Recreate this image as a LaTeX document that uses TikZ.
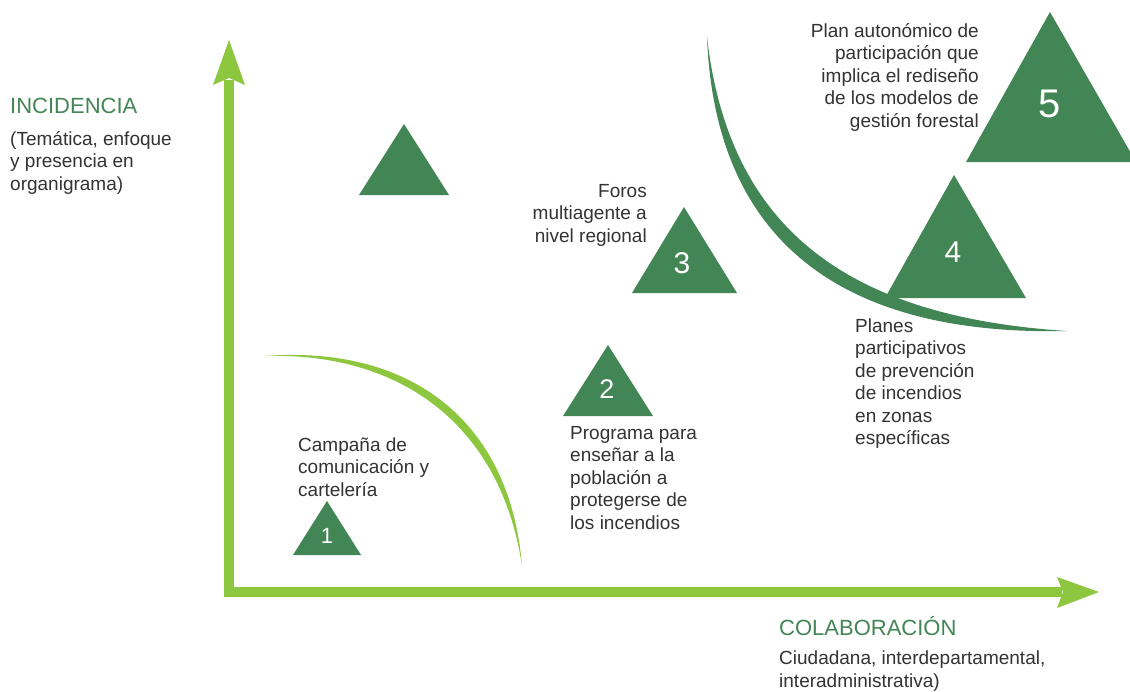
\documentclass[tikz,border=0pt]{standalone}
\usepackage{fontspec}
\setmainfont{Liberation Sans}
\definecolor{darkgreen}{RGB}{67,134,86}
\definecolor{lightgreen}{RGB}{141,198,63}
\definecolor{textgrey}{RGB}{51,51,51}
\begin{document}
\begin{tikzpicture}[x=1pt,y=-1pt,
  body/.style={font=\fontsize{19}{22.5}\selectfont, text=textgrey, inner sep=0},
  titletext/.style={font=\fontsize{22}{25}\selectfont, text=darkgreen, inner sep=0},
  num/.style={text=white, inner sep=0},
  tri/.style={fill=darkgreen, draw=none},
  axis/.style={draw=lightgreen, line width=10pt, line join=miter}]
\useasboundingbox (0,0) rectangle (1130,691);
\fill[white] (0,0) rectangle (1130,691);

% axes
\coordinate (O) at (229,592);
\coordinate (Ytip) at (229,40);
\coordinate (Xtip) at (1099,592);
\draw[axis] (229,80) -- (O) -- (1062,592);
\fill[lightgreen] (Ytip) -- (245,85) -- (229,78) -- (213,85) -- cycle;
\fill[lightgreen] (Xtip) -- (1057,608) -- (1063,592) -- (1057,577) -- cycle;

% curves
\fill[lightgreen] (265,356) .. controls (410,345) and (510,420) .. (522,566)
  .. controls (501,426) and (402,352) .. (265,356) -- cycle;
\fill[darkgreen] (707,37) .. controls (715,240) and (840,336) .. (1067,331)
  .. controls (850,317) and (729,231) .. (707,37) -- cycle;

% triangles
\fill[tri] (404,124) -- (449,195) -- (359,195) -- cycle;
\fill[tri] (684,207) -- (737,293) -- (632,293) -- cycle;
\fill[tri] (608,345) -- (653,416) -- (563,416) -- cycle;
\fill[tri] (327,501) -- (361,555) -- (293,555) -- cycle;
\fill[tri] (954,175) -- (1026,298) -- (885,298) -- cycle;
\fill[tri] (1050,12) -- (1136,162) -- (966,162) -- cycle;

% numbers
\node[num, font=\fontsize{40}{40}\selectfont] (n5) at (1050,104) {5};
\node[num, font=\fontsize{30}{30}\selectfont] (n4) at (953,252) {4};
\node[num, font=\fontsize{30}{30}\selectfont] (n3) at (682,263) {3};
\node[num, font=\fontsize{27}{27}\selectfont] (n2) at (607,389) {2};
\node[num, font=\fontsize{22}{22}\selectfont] (n1) at (327,536) {1};

% axis titles (base anchor = baseline of the last line)
\node[titletext, anchor=base west] (inc) at (10,113) {INCIDENCIA};
\node[body, anchor=base west, align=left] (incd) at (10,190) {(Temática, enfoque\\y presencia en\\organigrama)};
\node[titletext, anchor=base west] (col) at (779,635) {COLABORACIÓN};
\node[body, anchor=base west, align=left] (cold) at (779,687) {Ciudadana, interdepartamental,\\interadministrativa)};

% labels
\node[body, anchor=base east, align=right] (t5) at (979,127) {Plan autonómico de\\participación que\\implica el rediseño\\de los modelos de\\gestión forestal};
\node[body, anchor=base east, align=right] (t3) at (647,242) {Foros\\multiagente a\\nivel regional};
\node[body, anchor=base west, align=left] (t4) at (855,444.5) {Planes\\participativos\\de prevención\\de incendios\\en zonas\\específicas};
\node[body, anchor=base west, align=left] (t2) at (570,529) {Programa para\\enseñar a la\\población a\\protegerse de\\los incendios};
\node[body, anchor=base west, align=left] (t1) at (298,496) {Campaña de\\comunicación y\\cartelería};
\end{tikzpicture}
\end{document}
